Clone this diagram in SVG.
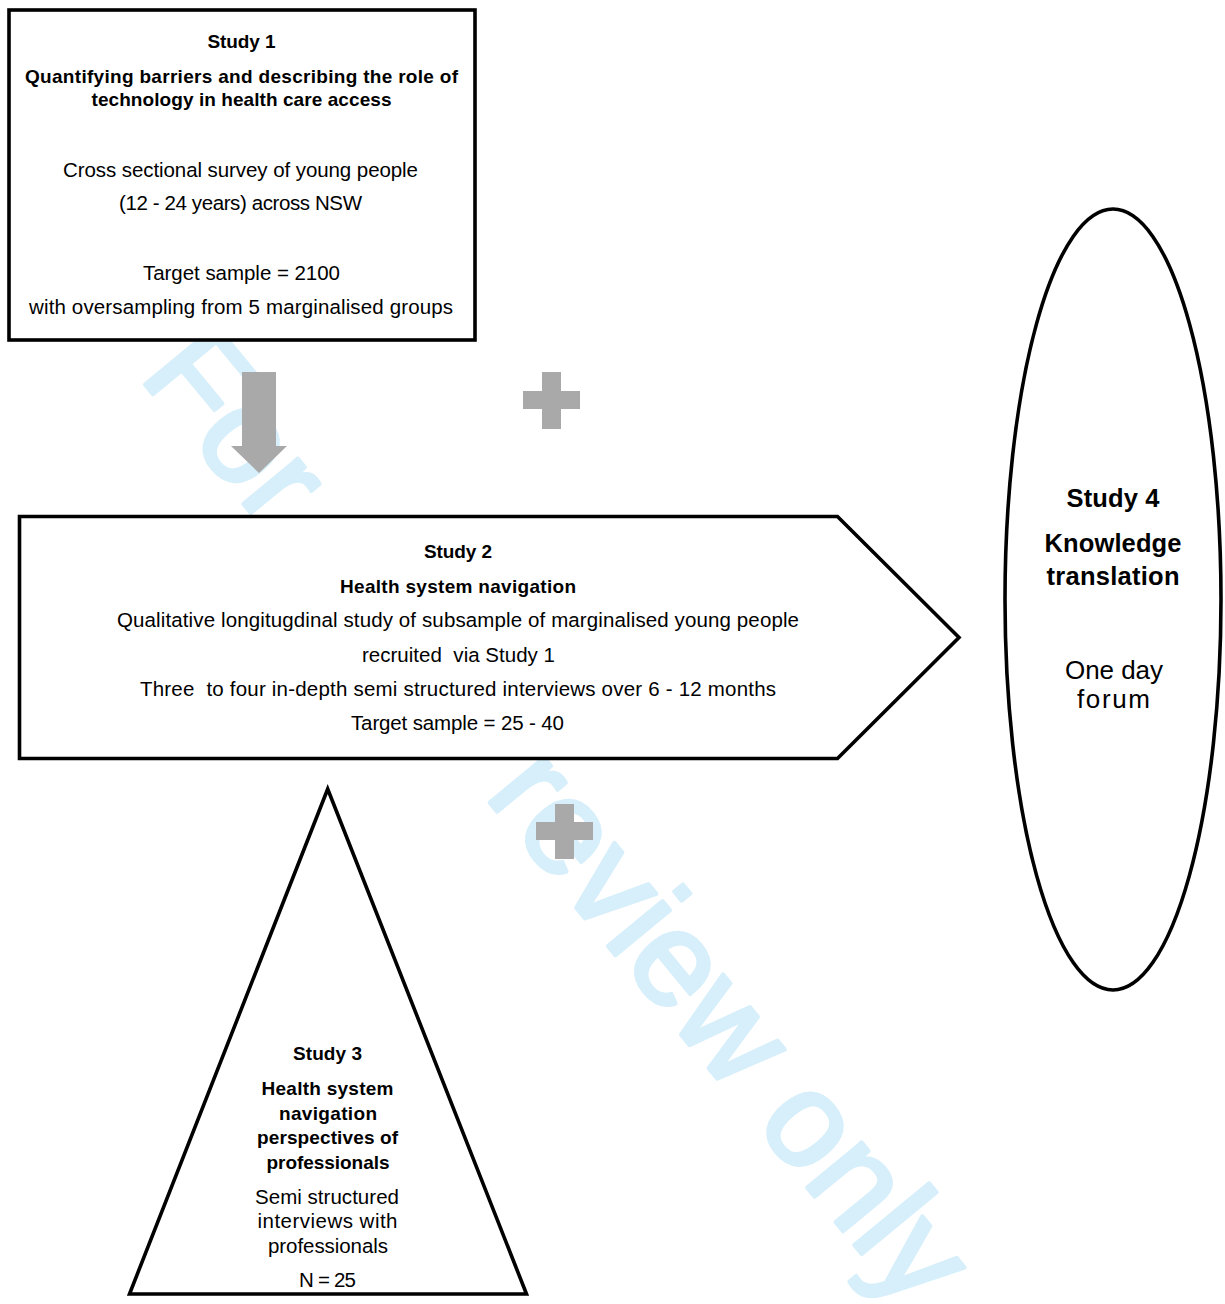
<svg xmlns="http://www.w3.org/2000/svg" width="1225" height="1304" viewBox="0 0 1225 1304">
<style>
.shape{fill:#ffffff;stroke:#000000;stroke-width:3.6;stroke-linejoin:miter}
.t{font-family:"Liberation Sans",Arial,sans-serif;text-anchor:middle;fill:#000000;white-space:pre}
.b{font-weight:bold;font-size:19px}
.r{font-size:20.5px}
.b4{font-weight:bold;font-size:25.5px}
.r4{font-size:26px}
.grey{fill:#A9A9A9}
.wm{font-family:"Liberation Sans",Arial,sans-serif;font-size:134px;fill:#D6EFFB;stroke:#D6EFFB;stroke-width:4;stroke-linejoin:round}
</style>
<rect x="0" y="0" width="1225" height="1304" fill="#ffffff"/>
<g id="watermark">
<text class="wm" transform="translate(138,376) rotate(50.5)">For peer review only</text>
</g>
<g id="node-study1">
<rect class="shape" x="9" y="10" width="466" height="330"/>
<text class="t b" x="241.5" y="48" textLength="68">Study 1</text>
<text class="t b" x="241.5" y="82.5" textLength="433">Quantifying barriers and describing the role of</text>
<text class="t b" x="241.5" y="106" textLength="300">technology in health care access</text>
<text class="t r" x="240.5" y="176.5" textLength="355">Cross sectional survey of young people</text>
<text class="t r" x="240.5" y="209.5" textLength="243">(12 - 24 years) across NSW</text>
<text class="t r" x="241.5" y="279.5" textLength="197">Target sample = 2100</text>
<text class="t r" x="241" y="314" textLength="424">with oversampling from 5 marginalised groups</text>
</g>
<g id="node-study2">
<polygon class="shape" points="19.5,516.5 837.5,516.5 959,637.5 837.5,758.5 19.5,758.5"/>
<text class="t b" x="458" y="558" textLength="68">Study 2</text>
<text class="t b" x="458" y="593" textLength="236">Health system navigation</text>
<text class="t r" x="458" y="627" textLength="682">Qualitative longitugdinal study of subsample of marginalised young people</text>
<text class="t r" x="458.5" y="662" textLength="193">recruited  via Study 1</text>
<text class="t r" x="458" y="696" textLength="636">Three  to four in-depth semi structured interviews over 6 - 12 months</text>
<text class="t r" x="457.5" y="730" textLength="213">Target sample = 25 - 40</text>
</g>
<g id="node-study3">
<polygon class="shape" points="327.7,789 129.5,1294 526.5,1294"/>
<text class="t b" x="327.5" y="1060" textLength="69">Study 3</text>
<text class="t b" x="327.5" y="1095" textLength="132">Health system</text>
<text class="t b" x="328" y="1120" textLength="98">navigation</text>
<text class="t b" x="327.5" y="1144" textLength="141">perspectives of</text>
<text class="t b" x="328" y="1168.5" textLength="123">professionals</text>
<text class="t r" x="327" y="1204" textLength="144">Semi structured</text>
<text class="t r" x="327.5" y="1228" textLength="140">interviews with</text>
<text class="t r" x="328" y="1253" textLength="120">professionals</text>
<text class="t r" x="327.5" y="1287" textLength="57">N = 25</text>
</g>
<g id="node-study4">
<ellipse class="shape" cx="1113" cy="599.5" rx="108" ry="390.5"/>
<text class="t b4" x="1113" y="507" textLength="93">Study 4</text>
<text class="t b4" x="1113" y="552" textLength="137">Knowledge</text>
<text class="t b4" x="1113" y="584.5" textLength="133">translation</text>
<text class="t r4" x="1114" y="679" textLength="98">One day</text>
<text class="t r4" x="1113.5" y="708" textLength="73">forum</text>
</g>
<g id="connectors">
<polygon class="grey" points="242,372 276,372 276,446 287,446 259,473 231,446 242,446"/>
<path class="grey" d="M542,372 H561 V391 H580 V409 H561 V429 H542 V409 H523 V391 H542 Z"/>
<path class="grey" d="M555,804 H574 V822 H593 V840 H574 V859 H555 V840 H536 V822 H555 Z"/>
</g>
</svg>
